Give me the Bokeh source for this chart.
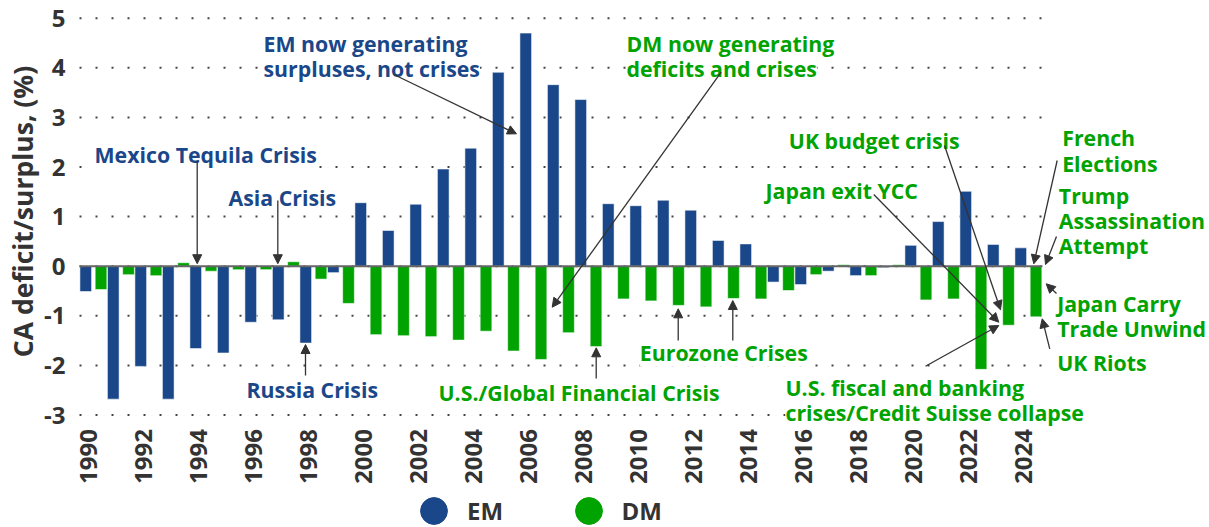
import math
from bokeh.plotting import figure
from bokeh.models import (Range1d, FixedTicker, Label, Arrow, NormalHead,
                          Legend, LegendItem, ColumnDataSource)
from bokeh.transform import dodge
from bokeh.embed import file_html
from bokeh.resources import INLINE

# ---------------- data ----------------
years = list(range(1990, 2025))
em = [-0.51, -2.68, -2.02, -2.68, -1.66, -1.75, -1.13, -1.08, -1.55, -0.13,
      1.28, 0.72, 1.25, 1.96, 2.38, 3.91, 4.70, 3.66, 3.36, 1.26,
      1.22, 1.33, 1.13, 0.52, 0.45, -0.32, -0.37, -0.10, -0.19, -0.03,
      0.42, 0.90, 1.51, 0.44, 0.37]
dm = [-0.47, -0.17, -0.19, 0.07, -0.10, -0.07, -0.07, 0.09, -0.26, -0.75,
      -1.38, -1.40, -1.42, -1.49, -1.31, -1.71, -1.88, -1.34, -1.62, -0.66,
      -0.70, -0.79, -0.82, -0.65, -0.66, -0.49, -0.17, 0.03, -0.19, 0.03,
      -0.68, -0.66, -2.08, -1.19, -1.02]
x_ticks = list(range(1990, 2025, 2))
y_ticks = list(range(-3, 6))
y_tick_labels = {t: str(t) for t in y_ticks}
series_names = ["EM", "DM"]
y_title = "CA deficit/surplus, (%)"

# data window of the chart (grid / zero line extent)
X_LO, X_HI = 1989.673, 2024.69
Y_LO, Y_HI = -3, 5

# annotation texts: (lines, x, first-baseline y, line step, colour key)
notes = [
    (["Mexico Tequila Crisis"], 1990.218, 2.252, 0, "em"),
    (["Asia Crisis"], 1995.09, 1.391, 0, "em"),
    (["EM now generating", "surpluses, not crises"], 1996.364, 4.484, 0.504, "em"),
    (["DM now generating", "deficits and crises"], 2009.564, 4.484, 0.504, "dm"),
    (["Russia Crisis"], 1995.745, -2.486, 0, "em"),
    (["U.S./Global Financial Crisis"], 2002.727, -2.546, 0, "dm"),
    (["Eurozone Crises"], 2010.047, -1.734, 0, "dm"),
    (["UK budget crisis"], 2015.465, 2.534, 0, "dm"),
    (["Japan exit YCC"], 2014.618, 1.526, 0, "dm"),
    (["U.S. fiscal and banking", "crises/Credit Suisse collapse"], 2015.345, -2.44, 0.504, "dm"),
    (["French", "Elections"], 2025.407, 2.601, 0.524, "dm"),
    (["Trump", "Assassination", "Attempt"], 2025.284, 1.425, 0.504, "dm"),
    (["Japan Carry", "Trade Unwind"], 2025.225, -0.758, 0.504, "dm"),
    (["UK Riots"], 2025.225, -1.935, 0, "dm"),
]
# arrows: (x_start, y_start, x_end, y_end)
arrows = [
    (1993.953, 2.131, 1993.953, 0.05),
    (1996.884, 1.325, 1996.884, 0.05),
    (2001.102, 3.865, 2005.564, 2.669),
    (2013.007, 3.911, 2006.862, -0.827),
    (1997.891, -2.204, 1997.891, -1.579),
    (2008.462, -2.264, 2008.462, -1.645),
    (2011.444, -1.498, 2011.444, -0.859),
    (2013.429, -1.498, 2013.429, -0.692),
    (2021.127, 2.433, 2023.164, -0.879),
    (2018.556, 1.446, 2023.102, -1.129),
    (2020.436, -2.016, 2023.102, -1.196),
    (2025.225, 2.131, 2024.375, 0.048),
    (2025.2, 0.599, 2024.8, 0.034),
    (2025.2, -0.550, 2024.825, -0.355),
    (2024.956, -1.665, 2024.680, -1.060),
]

EM_COLOR = "#1a4789"
DM_COLOR = "#00a300"
TXT = "#333333"
FONT = "Open Sans"
colors = {"em": EM_COLOR, "dm": DM_COLOR}

p = figure(width=1209, height=527,
           x_range=Range1d(1986.8, 2030.7636), y_range=Range1d(-5.268, 5.3569),
           output_backend="svg", toolbar_location=None,
           min_border_left=0, min_border_right=0,
           min_border_top=0, min_border_bottom=0)
p.outline_line_color = None
p.xgrid.visible = False
p.ygrid.visible = False

for ax in (p.xaxis[0], p.yaxis[0]):
    ax.axis_line_color = None
    ax.major_tick_line_color = None
    ax.minor_tick_line_color = None
    ax.major_tick_out = 0
    ax.major_tick_in = 0
    ax.minor_tick_out = 0
    ax.major_label_text_font = FONT
    ax.major_label_text_font_style = "bold"
    ax.major_label_text_font_size = "24px"
    ax.major_label_text_color = TXT

p.xaxis.ticker = FixedTicker(ticks=x_ticks)
p.xaxis.major_label_orientation = math.pi / 2
p.xaxis.major_label_standoff = 14
p.xaxis.fixed_location = Y_LO
p.yaxis.ticker = FixedTicker(ticks=y_ticks)
p.yaxis.major_label_overrides = y_tick_labels
p.yaxis.major_label_standoff = 14
p.yaxis.fixed_location = X_LO

# dotted horizontal grid, limited to the data window
p.segment(x0=[X_LO] * len(y_ticks), x1=[X_HI] * len(y_ticks), y0=y_ticks, y1=y_ticks,
          line_color="#444444", line_width=2, line_dash="2 14")

src = ColumnDataSource(dict(year=years, em=em, dm=dm))
p.vbar(x=dodge("year", -0.10, range=p.x_range), top="em", bottom=0, width=0.425,
       source=src, fill_color=EM_COLOR, line_color="white", line_alpha=0.55, line_width=1)
p.vbar(x=dodge("year", 0.455, range=p.x_range), top="dm", bottom=0, width=0.425,
       source=src, fill_color=DM_COLOR, line_color="white", line_alpha=0.55, line_width=1)

# zero line
p.segment(x0=[X_LO], x1=[X_HI], y0=[0], y1=[0], line_color="#666666", line_width=2)

# y-axis title
p.add_layout(Label(x=1987.636, y=1.103, text=y_title, angle=math.pi / 2,
                   text_align="center", text_baseline="middle",
                   text_font=FONT, text_font_style="bold", text_font_size="26.5px",
                   text_color=TXT))

# annotation lines: lower lines first so upper lines' descenders stay visible
for lines, x, y0, step, ck in notes:
    for i in reversed(range(len(lines))):
        p.add_layout(Label(x=x, y=y0 - i * step, text=lines[i], text_align="left",
                           text_baseline="alphabetic", text_font=FONT,
                           text_font_style="bold", text_font_size="21.3px",
                           text_color=colors[ck], background_fill_color="white"))

for xs, ys, xe, ye in arrows:
    p.add_layout(Arrow(end=NormalHead(size=9, fill_color="#333333", line_color="#333333", line_width=1),
                       x_start=xs, y_start=ys, x_end=xe, y_end=ye,
                       line_color="#333333", line_width=1.3))

# legend
em_r = p.scatter(x=[float("nan")], y=[float("nan")], marker="circle", size=10,
                 fill_color=EM_COLOR, line_color=EM_COLOR)
dm_r = p.scatter(x=[float("nan")], y=[float("nan")], marker="circle", size=10,
                 fill_color=DM_COLOR, line_color=DM_COLOR)
for name, r, loc, st in ((series_names[0], em_r, (400, -17), -8),
                         (series_names[1], dm_r, (554.5, -17), -4)):
    lg = Legend(items=[LegendItem(label=name, renderers=[r])], location=loc,
                orientation="horizontal", glyph_width=67, glyph_height=67,
                label_standoff=st, margin=0, padding=0, spacing=0,
                border_line_color=None, background_fill_alpha=0,
                label_text_font=FONT, label_text_font_style="bold",
                label_text_font_size="24px", label_text_color=TXT)
    p.add_layout(lg)

open("out.html", "w").write(file_html(p, INLINE))
